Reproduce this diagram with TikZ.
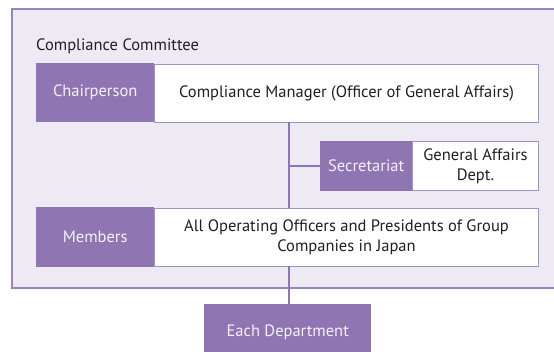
\documentclass[tikz,border=0pt]{standalone}
\usepackage{fontspec}
\setmainfont{PT Sans}
\definecolor{purp}{RGB}{143,118,178}
\definecolor{lav}{RGB}{237,234,244}
\definecolor{bord}{RGB}{155,130,192}
\definecolor{wbord}{RGB}{165,143,203}
\definecolor{ink}{RGB}{35,31,32}
\definecolor{ltext}{RGB}{244,241,248}
\tikzset{
  pbox/.style={fill=purp, draw=none, text=ltext, anchor=north west, inner sep=0pt, align=center, font=\fontsize{16.5}{20}\selectfont},
  wbox/.style={fill=white, draw=wbord, line width=1pt, text=ink, anchor=north west, inner sep=0pt, align=center, font=\fontsize{16.5}{20}\selectfont},
  conn/.style={draw=purp, line width=1.2pt},
}
\begin{document}
\begin{tikzpicture}[x=1pt,y=-1pt]
\useasboundingbox (0,0) rectangle (554,351);
\clip (0,0) rectangle (554,351);
\fill[white] (0,0) rectangle (554,351);
\draw[fill=lav, draw=bord, line width=1.2pt] (12,9) rectangle (560,288);
\node[anchor=base west, text=ink, inner sep=0pt, font=\fontsize{16.5}{20}\selectfont] (title) at (36,50) {Compliance Committee};
% chairperson row
\node[pbox, minimum width=118pt, minimum height=59pt] (chp) at (36,63) {Chairperson};
\node[wbox, minimum width=384pt, minimum height=58pt] (chw) at (154,64) {Compliance Manager (Officer of General Affairs)};
% secretariat row
\node[pbox, minimum width=92pt, minimum height=50pt] (sec) at (320,141) {Secretariat};
\node[wbox, minimum width=126pt, minimum height=49pt] (secw) at (412,141) {General Affairs\\Dept.};
% members row
\node[pbox, minimum width=118pt, minimum height=60pt] (mem) at (36,207) {Members};
\node[wbox, minimum width=384pt, minimum height=58pt] (memw) at (154,208) {All Operating Officers and Presidents of Group\\Companies in Japan};
% each department
\node[pbox, minimum width=167pt, minimum height=56pt] (dept) at (204,304) {Each Department};
% connectors
\coordinate (top) at (289,122);
\coordinate (br) at (289,166);
\coordinate (mt) at (289,208);
\coordinate (mb) at (289,266);
\coordinate (dt) at (289,304);
\draw[conn] (top) -- (mt);
\draw[conn] (br) -- (sec.west |- br);
\draw[conn] (mb) -- (dt);
\end{tikzpicture}
\end{document}
